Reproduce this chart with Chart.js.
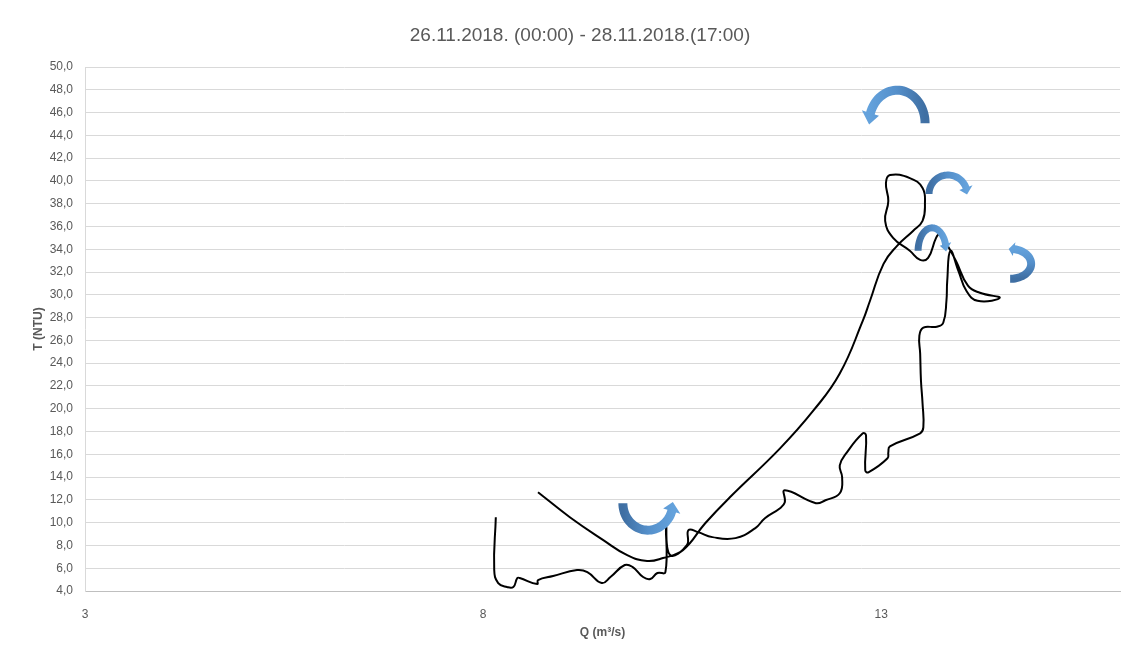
<!DOCTYPE html>
<html>
<head>
<meta charset="utf-8">
<script src="https://cdn.jsdelivr.net/npm/chart.js@4.4.0/dist/chart.umd.min.js"></script>
<style>
  html, body { margin: 0; padding: 0; background: #fff; }
  #wrap { width: 1133px; height: 651px; position: relative; }
</style>
</head>
<body>
<div id="wrap"><canvas id="hysteresis" width="1133" height="651"></canvas></div>
<script>
// discharge Q (m3/s) and turbidity T (NTU), in time order
var qValues = [
    8.69, 9.09, 9.51, 9.81, 10.06, 10.26, 10.51, 10.79, 11.10, 11.73,
    12.15, 12.48, 12.77, 12.86, 13.03, 13.20, 13.40, 13.52, 13.55, 13.52,
    13.36, 13.11, 13.06, 13.09, 13.05, 13.15, 13.36, 13.49, 13.59, 13.69,
    13.74, 13.80, 13.94, 14.09, 14.24, 14.49, 14.21, 14.07, 13.97, 13.87,
    13.83, 13.82, 13.78, 13.70, 13.53, 13.48, 13.49, 13.50, 13.52, 13.53,
    13.49, 13.11, 13.09, 13.08, 12.84, 12.80, 12.81, 12.77, 12.57, 12.48,
    12.51, 12.48, 12.30, 12.18, 11.79, 11.79, 11.73, 11.54, 11.42, 11.17,
    10.88, 10.70, 10.58, 10.56, 10.35, 10.30, 10.29, 10.19, 10.10, 10.01,
    9.88, 9.78, 9.60, 9.49, 9.31, 9.18, 8.88, 8.69, 8.68, 8.46,
    8.43, 8.38, 8.30, 8.19, 8.14, 8.16
];
var tValues = [
    12.67, 10.48, 8.47, 7.15, 6.63, 6.89, 7.59, 9.95, 12.23, 16.52,
    19.85, 23.09, 27.73, 29.48, 32.72, 34.30, 35.61, 36.49, 37.98, 39.38,
    40.25, 40.51, 39.81, 38.24, 36.49, 35.00, 33.87, 33.07, 33.25, 35.00,
    35.35, 34.75, 32.98, 30.80, 30.18, 29.74, 29.48, 30.36, 32.11, 33.87,
    31.23, 29.48, 27.55, 27.20, 27.12, 26.42, 24.84, 22.48, 20.46, 18.36,
    17.84, 16.70, 16.17, 15.65, 14.42, 14.60, 17.66, 17.84, 16.17, 15.03,
    13.98, 12.58, 11.97, 11.71, 12.84, 11.79, 11.27, 10.39, 9.52, 8.64,
    8.73, 9.17, 9.34, 8.03, 7.15, 9.60, 5.66, 5.58, 5.05, 5.23,
    6.10, 6.28, 5.23, 4.70, 5.66, 5.84, 5.31, 4.96, 4.61, 5.14,
    5.14, 4.35, 4.35, 4.70, 5.84, 10.48
];
var xTickValues = [3, 8, 13];
var chartTitle = "26.11.2018. (00:00) - 28.11.2018.(17:00)";

var textColor = "#595959";
var fontFamily = "'Liberation Sans', Arial, sans-serif";

// curved direction arrows: centre in data units, radii and widths in px
var arrowMarks = [
    { q: 13.20, t: 45.07, rx: 28, ry: 33, w: 9, a0: 0, base: -2.83, a1: -Math.PI - 0.04, hw: 9 },
    { q: 13.84, t: 38.85, rx: 19, ry: 19, w: 7, a0: -Math.PI, base: -0.34, a1: 0.03, hw: 7 },
    { q: 13.64, t: 33.86, rx: 14, ry: 23, w: 7, a0: -Math.PI, base: -0.30, a1: 0.03, hw: 6 },
    { q: 14.62, t: 32.72, rx: 21, ry: 15, w: 8, a0: Math.PI / 2, base: -1.38, a1: -Math.PI / 2 - 0.07, hw: 7 },
    { q: 10.07, t: 11.71, rx: 25, ry: 27, w: 9, a0: Math.PI, base: 0.30, a1: -0.04, hw: 9 }
];

const drawCurvedArrow = (ctx, cx, cy, m) =>
{
    var steps = 40;
    var outer = [], inner = [];
    for (var i = 0; i <= steps; i++) {
        var a = m.a0 + (m.base - m.a0) * i / steps;
        outer.push([cx + (m.rx + m.w / 2) * Math.cos(a), cy + (m.ry + m.w / 2) * Math.sin(a)]);
        inner.push([cx + (m.rx - m.w / 2) * Math.cos(a), cy + (m.ry - m.w / 2) * Math.sin(a)]);
    }
    var bo = [cx + (m.rx + m.hw) * Math.cos(m.base), cy + (m.ry + m.hw) * Math.sin(m.base)];
    var bi = [cx + (m.rx - m.hw) * Math.cos(m.base), cy + (m.ry - m.hw) * Math.sin(m.base)];
    var tip = [cx + m.rx * Math.cos(m.a1), cy + m.ry * Math.sin(m.a1)];
    var tail = [cx + m.rx * Math.cos(m.a0), cy + m.ry * Math.sin(m.a0)];

    ctx.beginPath();
    outer.forEach((p, i) => i ? ctx.lineTo(p[0], p[1]) : ctx.moveTo(p[0], p[1]));
    ctx.lineTo(bo[0], bo[1]);
    ctx.lineTo(tip[0], tip[1]);
    ctx.lineTo(bi[0], bi[1]);
    for (var j = inner.length - 1; j >= 0; j--) ctx.lineTo(inner[j][0], inner[j][1]);
    ctx.closePath();

    var grad = ctx.createLinearGradient(tail[0], tail[1], tip[0], tip[1]);
    grad.addColorStop(0, "#3F6FA3");
    grad.addColorStop(0.5, "#5590CB");
    grad.addColorStop(1, "#64A2DC");
    ctx.fillStyle = grad;
    ctx.fill();
}

const arrowPlugin = {
    id: "arrowPlugin",
    afterDatasetsDraw(chart) {
        var ctx = chart.ctx;
        var xs = chart.scales.x, ys = chart.scales.y;
        ctx.save();
        arrowMarks.forEach(m => {
            drawCurvedArrow(ctx, xs.getPixelForValue(m.q), ys.getPixelForValue(m.t), m);
        });
        ctx.restore();
    }
};

// title sits a little left of the plot centre, as in the workbook
const titlePlugin = {
    id: "titlePlugin",
    afterDraw(chart) {
        var ctx = chart.ctx;
        ctx.save();
        ctx.fillStyle = textColor;
        ctx.font = "19px " + fontFamily;
        ctx.textAlign = "center";
        ctx.textBaseline = "middle";
        ctx.fillText(chartTitle, 580, 36);
        ctx.restore();
    }
};

var points = qValues.map((q, i) => ({ x: q, y: tValues[i] }));

var hysteresisChart = new Chart("hysteresis",
{
    type: "scatter",
    data: {
        datasets: [{
            data: points,
            showLine: true,
            borderColor: "#000000",
            borderWidth: 2,
            pointRadius: 0,
            tension: 0.45,
            fill: false
        }]
    },
    options: {
        animation: false,
        responsive: false,
        devicePixelRatio: 1,
        layout: { padding: { left: 0, right: 13, top: 67, bottom: 0 } },
        plugins: {
            legend: { display: false },
            tooltip: { enabled: false },
            title: { display: false }
        },
        scales: {
            x: {
                type: "linear",
                min: 3,
                max: 16,
                afterBuildTicks: scale => {
                    scale.ticks = xTickValues.map(v => ({ value: v }));
                },
                afterFit: scale => { scale.height = 60; },
                grid: { display: false, drawTicks: false },
                border: { color: "#BFBFBF", width: 1 },
                ticks: {
                    color: textColor,
                    padding: 16,
                    font: { family: fontFamily, size: 12 }
                },
                title: {
                    display: true,
                    text: "Q (m³/s)",
                    color: textColor,
                    font: { family: fontFamily, size: 12, weight: "bold" },
                    padding: { top: 0, bottom: 11 }
                }
            },
            y: {
                min: 4,
                max: 50,
                afterFit: scale => { scale.width = 85; },
                grid: { color: "#D9D9D9", lineWidth: 1, drawTicks: false },
                border: { color: "#D9D9D9", width: 1 },
                ticks: {
                    stepSize: 2,
                    color: textColor,
                    padding: 12,
                    font: { family: fontFamily, size: 12 },
                    callback: v => v.toFixed(1).replace(".", ",")
                },
                title: {
                    display: true,
                    text: "T (NTU)",
                    color: textColor,
                    font: { family: fontFamily, size: 12, weight: "bold" },
                    padding: { top: 31, bottom: 0 }
                }
            }
        }
    },
    plugins: [arrowPlugin, titlePlugin]
});
</script>
</body>
</html>
